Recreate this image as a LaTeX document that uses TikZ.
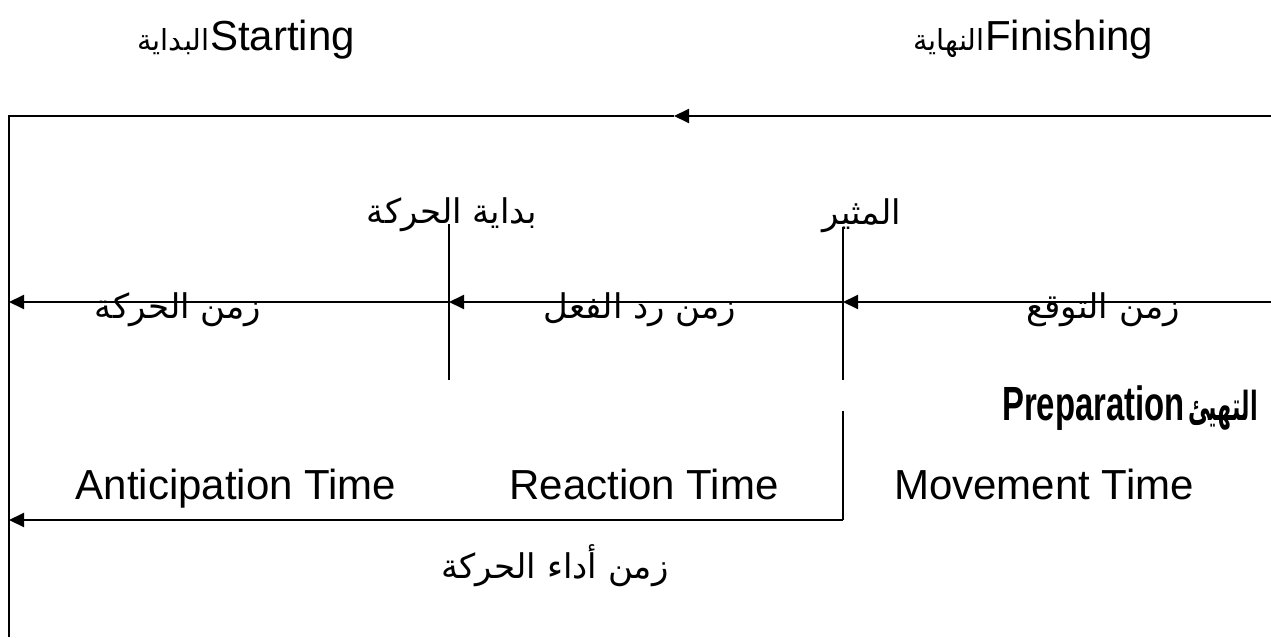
\documentclass[tikz,border=0pt]{standalone}
\usepackage{fontspec}
\usepackage{graphicx}
\setmainfont{Liberation Sans}
\newfontfamily\arabicfont[Script=Arabic]{DejaVu Sans}
\TeXXeTstate=1
\usetikzlibrary{arrows.meta}

\tikzset{
  lbl/.style={inner sep=0pt, anchor=base, font=\fontsize{42}{48}\selectfont},
  arlbl/.style={inner sep=0pt, anchor=base, font=\fontsize{34}{40}\selectfont\arabicfont},
  arhead/.style={inner sep=0pt, anchor=base east, font=\fontsize{29}{34}\selectfont\arabicfont},
  axis/.style={line width=2pt},
  tick/.style={line width=1.7pt},
  tip/.style={-{Triangle[length=15pt,width=14pt]}},
}

\begin{document}
\begin{tikzpicture}[x=1pt,y=-1pt]
\useasboundingbox (0,0) rectangle (1271,637);

% headings
\node[lbl, anchor=base west] (start) at (210,50) {Starting};
\node[arhead] (startAr) at (start.base west) {\beginR البداية\endR};
\node[lbl, anchor=base west] (finish) at (985,50) {Finishing};
\node[arhead] (finishAr) at (finish.base west) {\beginR النهاية\endR};

% outer frame: top arrow and left edge
\coordinate (tR) at (1271,116);
\coordinate (tM) at (674,116);
\coordinate (tL) at (9,116);
\coordinate (tB) at (9,637);
\draw[axis,tip] (tR) -- (tM);
\draw[axis] (tM) -- (tL) -- (tB);

% event markers
\node[arlbl] (moveStart) at (452,223) {\beginR بداية الحركة\endR};
\node[arlbl] (stim) at (862,224) {\beginR المثير\endR};
\coordinate (mvTop) at (449,224);
\coordinate (mvBot) at (449,380);
\coordinate (stTop) at (843,227);
\coordinate (stBot) at (843,380);
\draw[tick] (mvTop) -- (mvBot);
\draw[tick] (stTop) -- (stBot);

% middle time line
\coordinate (mR) at (1271,302);
\coordinate (mS) at (843,302);
\coordinate (mM) at (449,302);
\coordinate (mL) at (9,302);
\draw[axis,tip] (mR) -- (mS);
\draw[axis,tip] (mS) -- (mM);
\draw[axis,tip] (mM) -- (mL);
\node[arlbl] (mvTime) at (178,318) {\beginR زمن الحركة\endR};
\node[arlbl] (rcTime) at (640,318) {\beginR زمن رد الفعل\endR};
\node[arlbl] (anTime) at (1103,318) {\beginR زمن التوقع\endR};

% preparation
\node[inner sep=0pt, anchor=base west, font=\fontsize{48}{54}\selectfont\bfseries] (prep) at (1002,420) {\scalebox{0.685}[1]{Preparation}};
\node[inner sep=0pt, anchor=base east, font=\fontsize{40}{46}\selectfont\arabicfont\bfseries] (prepAr) at (1258,420) {\scalebox{0.56}[1]{\beginR التهيئ\endR}};

% English row
\node[lbl] (enAnt) at (236,499) {Anticipation Time};
\node[lbl] (enRea) at (644,499) {Reaction Time};
\node[lbl] (enMov) at (1044,499) {Movement Time};

% performance time bracket
\coordinate (pTop) at (843,411);
\coordinate (pCorner) at (843,520);
\coordinate (pL) at (9,520);
\draw[tick] (pTop) -- (pCorner);
\draw[axis,tip] (pCorner) -- (pL);
\node[arlbl] (perf) at (555,578) {\beginR زمن أداء الحركة\endR};
\end{tikzpicture}
\end{document}
